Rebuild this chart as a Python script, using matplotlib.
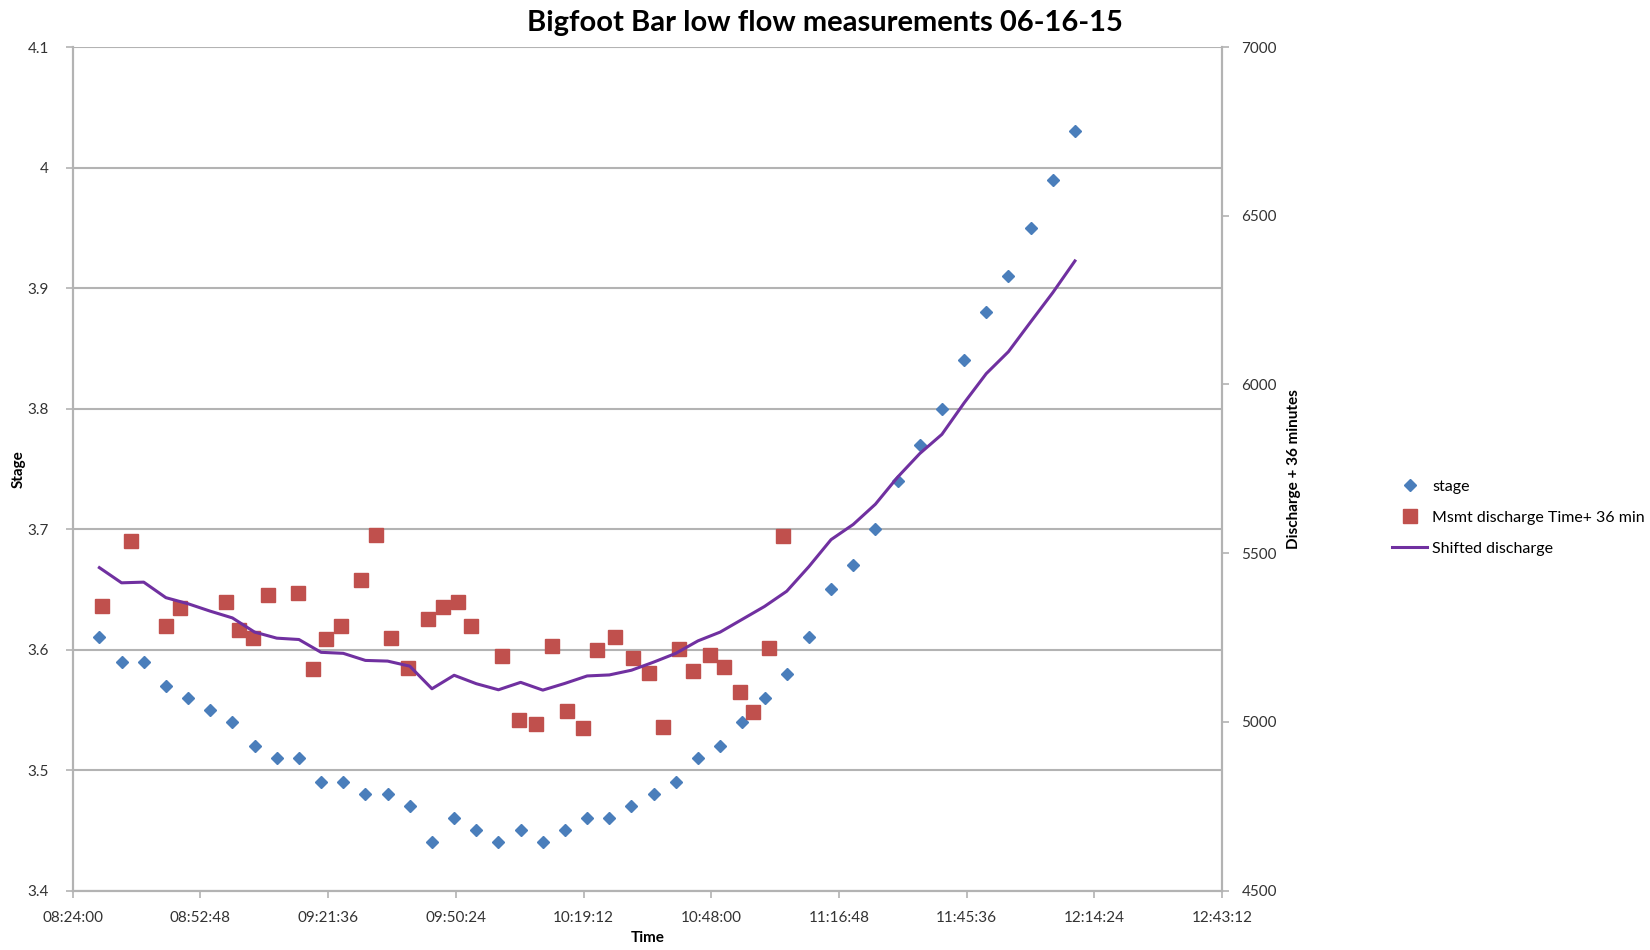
"""
Bigfoot Bar low flow measurements, stage vs shifted discharge.
"""

import matplotlib.pyplot as plt
import numpy as np

# stage readings, every 5 minutes from 08:30 to 12:10
stage_times = ["08:30", "08:35", "08:40", "08:45", "08:50", "08:55", "09:00", "09:05", "09:10",
               "09:15", "09:20", "09:25", "09:30", "09:35", "09:40", "09:45", "09:50", "09:55",
               "10:00", "10:05", "10:10", "10:15", "10:20", "10:25", "10:30", "10:35", "10:40",
               "10:45", "10:50", "10:55", "11:00", "11:05", "11:10", "11:15", "11:20", "11:25",
               "11:30", "11:35", "11:40", "11:45", "11:50", "11:55", "12:00", "12:05", "12:10"]
stage = [3.61, 3.59, 3.59, 3.57, 3.56, 3.55, 3.54, 3.52, 3.51,
         3.51, 3.49, 3.49, 3.48, 3.48, 3.47, 3.44, 3.46, 3.45,
         3.44, 3.45, 3.44, 3.45, 3.46, 3.46, 3.47, 3.48, 3.49,
         3.51, 3.52, 3.54, 3.56, 3.58, 3.61, 3.65, 3.67, 3.70,
         3.74, 3.77, 3.80, 3.84, 3.88, 3.91, 3.95, 3.99, 4.03]

# measured discharge, time shifted by 36 min
msmt_times = ["08:30:36", "08:37:12", "08:45:06", "08:48:06", "08:58:30", "09:01:30", "09:04:42",
              "09:08:06", "09:14:42", "09:18:12", "09:21:06", "09:24:36", "09:29:06", "09:32:24",
              "09:35:42", "09:39:42", "09:44:12", "09:47:30", "09:50:48", "09:53:48", "10:00:48",
              "10:04:42", "10:08:24", "10:12:00", "10:15:24", "10:19:00", "10:22:18", "10:26:18",
              "10:30:18", "10:33:54", "10:37:12", "10:40:36", "10:43:54", "10:47:36", "10:50:54",
              "10:54:30", "10:57:30", "11:00:54", "11:04:12"]
msmt_q = [5343, 5535, 5284, 5337, 5356, 5272, 5248,
          5375, 5383, 5157, 5245, 5284, 5419, 5554,
          5247, 5159, 5304, 5340, 5355, 5284, 5196,
          5005, 4993, 5225, 5033, 4983, 5212, 5252,
          5188, 5145, 4985, 5217, 5151, 5197, 5163,
          5088, 5029, 5220, 5551]

# shifted (smoothed) discharge at the stage times
shifted_q = [5457, 5412, 5414, 5368, 5350, 5328, 5308, 5266, 5248,
             5244, 5206, 5203, 5182, 5180, 5165, 5098, 5138, 5113,
             5095, 5117, 5094, 5114, 5136, 5139, 5153, 5177, 5203,
             5240, 5266, 5304, 5342, 5387, 5460, 5540, 5585, 5645,
             5725, 5795, 5852, 5945, 6032, 6097, 6185, 6272, 6366]

x_ticklabels = ["08:24:00", "08:52:48", "09:21:36", "09:50:24", "10:19:12",
                "10:48:00", "11:16:48", "11:45:36", "12:14:24", "12:43:12"]


def to_minutes(s):
    parts = [int(p) for p in s.split(":")]
    while len(parts) < 3:
        parts.append(0)
    return parts[0] * 60 + parts[1] + parts[2] / 60.0


t_stage = np.array([to_minutes(s) for s in stage_times])
t_msmt = np.array([to_minutes(s) for s in msmt_times])
x_ticks = np.array([to_minutes(s) for s in x_ticklabels])

plt.rcParams["font.family"] = ["Lato", "DejaVu Sans"]

fig = plt.figure(figsize=(16.5, 9.5), dpi=100)
ax = fig.add_axes([0.0441, 0.0626, 0.6966, 0.8879])
ax2 = ax.twinx()

grid_col = "#b3b3b3"
tick_col = "#333333"

ax.set_xlim(x_ticks[0], x_ticks[-1])
ax.set_ylim(3.4, 4.1)
ax.set_yticks(np.arange(3.4, 4.11, 0.1))
ax.set_yticklabels(["3.4", "3.5", "3.6", "3.7", "3.8", "3.9", "4", "4.1"])
ax.set_xticks(x_ticks)
ax.set_xticklabels(x_ticklabels)
ax.grid(axis="y", color=grid_col, linewidth=1.5)
ax.set_axisbelow(True)

ax2.set_ylim(4500, 7000)
ax2.set_yticks(np.arange(4500, 7001, 500))

for a in (ax, ax2):
    for side, sp in a.spines.items():
        sp.set_color(grid_col)
        sp.set_linewidth(1.5)
    a.spines["top"].set_visible(False)
    a.tick_params(colors=grid_col, labelcolor=tick_col, labelsize=11, length=5, width=1.2)
ax.tick_params(axis="x", pad=10)
ax.tick_params(axis="y", pad=12)
ax2.tick_params(axis="y", pad=9)

st, = ax.plot(t_stage, stage, linestyle="none", marker="D", markersize=6.5,
              color="#4a7ebb", label="stage")
ms, = ax2.plot(t_msmt, msmt_q, linestyle="none", marker="s", markersize=9.5,
               color="#c0504d", label="Msmt discharge Time+ 36 min")
sh, = ax2.plot(t_stage, shifted_q, color="#7030a0", linewidth=2.2,
               label="Shifted discharge")

fig.suptitle("Bigfoot Bar low flow measurements 06-16-15", fontsize=21,
             fontweight="bold", x=0.5, y=0.99)
ax.set_xlabel("Time", fontsize=11, fontweight="bold", labelpad=4)
ax.set_ylabel("Stage", fontsize=11, fontweight="bold")
ax.yaxis.set_label_coords(-0.041, 0.5)
ax2.set_ylabel("Discharge + 36 minutes", fontsize=11, fontweight="bold")
ax2.yaxis.set_label_coords(1.056, 0.5)

fig.legend(handles=[st, ms, sh], loc="center left", bbox_to_anchor=(0.835, 0.455),
           frameon=False, fontsize=11.5, handlelength=2.2, handletextpad=0.3,
           labelspacing=1.05)

plt.savefig("out.png", dpi=100)
